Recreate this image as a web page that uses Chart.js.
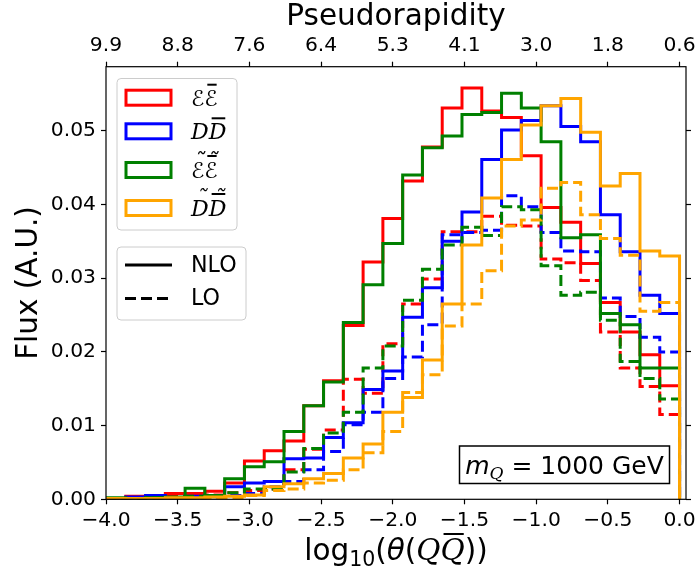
<!DOCTYPE html>
<html>
<head>
<meta charset="utf-8">
<script src="https://cdn.jsdelivr.net/npm/chart.js@4.4.1/dist/chart.umd.min.js"></script>
<style>
  html, body { margin: 0; padding: 0; background: #fff; }
</style>
</head>
<body>
<canvas id="graph" width="698" height="573"></canvas>
<script>
// histogram binning in log10(theta)
const binStart = -4.0;
const binEnd = 0.0;
const binCount = 29;

const xTicks = [-4.0, -3.5, -3.0, -2.5, -2.0, -1.5, -1.0, -0.5, 0.0];
const xTickLabels = ["\u22124.0", "\u22123.5", "\u22123.0", "\u22122.5", "\u22122.0", "\u22121.5", "\u22121.0", "\u22120.5", "0.0"];
const etaTickLabels = ["9.9", "8.8", "7.6", "6.4", "5.3", "4.1", "3.0", "1.8", "0.6"];
const yTicks = [0, 0.01, 0.02, 0.03, 0.04, 0.05];
const yTickLabels = ["0.00", "0.01", "0.02", "0.03", "0.04", "0.05"];

// NLO (solid)
const eeNLO = [0.0001, 0.0004, 0.0003, 0.0008, 0.0008, 0.0011, 0.0022, 0.0052, 0.0066, 0.0079,
  0.0127, 0.0161, 0.0236, 0.0322, 0.0381, 0.0432, 0.0478, 0.0531, 0.0558, 0.0527,
  0.0518, 0.0466, 0.0396, 0.0376, 0.0320, 0.0267, 0.0227, 0.0196, 0.0154];
const ddNLO = [0.0001, 0.0003, 0.0005, 0.0002, 0.0004, 0.0005, 0.0017, 0.0022, 0.0024, 0.0055,
  0.0056, 0.0084, 0.0104, 0.0149, 0.0174, 0.0247, 0.0287, 0.0350, 0.0390, 0.0461,
  0.0501, 0.0514, 0.0534, 0.0506, 0.0485, 0.0386, 0.0336, 0.0277, 0.0252];
const eetNLO = [0.0002, 0.0001, 0.0002, 0.0003, 0.0015, 0.0005, 0.0028, 0.0044, 0.0051, 0.0092,
  0.0127, 0.0159, 0.0240, 0.0291, 0.0347, 0.0440, 0.0477, 0.0493, 0.0522, 0.0525,
  0.0551, 0.0531, 0.0485, 0.0355, 0.0359, 0.0252, 0.0237, 0.0178, 0.0178];
const ddtNLO = [0.0001, 0.0001, 0.0001, 0.0002, 0.0002, 0.0003, 0.0004, 0.0006, 0.0017, 0.0021,
  0.0028, 0.0035, 0.0056, 0.0075, 0.0118, 0.0138, 0.0189, 0.0265, 0.0345, 0.0409,
  0.0461, 0.0508, 0.0534, 0.0544, 0.0498, 0.0425, 0.0442, 0.0337, 0.0330];

// LO (dashed)
const eeLO = [0.0001, 0.0002, 0.0002, 0.0004, 0.0004, 0.0006, 0.0009, 0.0012, 0.0014, 0.0040,
  0.0068, 0.0094, 0.0163, 0.0144, 0.0211, 0.0265, 0.0299, 0.0363, 0.0363, 0.0384,
  0.0372, 0.0371, 0.0326, 0.0321, 0.0297, 0.0227, 0.0178, 0.0153, 0.0115];
const ddLO = [0.0001, 0.0001, 0.0002, 0.0002, 0.0002, 0.0003, 0.0005, 0.0008, 0.0017, 0.0024,
  0.0040, 0.0065, 0.0101, 0.0118, 0.0164, 0.0193, 0.0237, 0.0359, 0.0362, 0.0365,
  0.0412, 0.0397, 0.0362, 0.0337, 0.0336, 0.0273, 0.0248, 0.0220, 0.0200];
const eetLO = [0.0001, 0.0001, 0.0002, 0.0002, 0.0004, 0.0005, 0.0009, 0.0014, 0.0014, 0.0037,
  0.0069, 0.0090, 0.0118, 0.0178, 0.0208, 0.0270, 0.0312, 0.0345, 0.0369, 0.0358,
  0.0397, 0.0393, 0.0317, 0.0277, 0.0281, 0.0243, 0.0187, 0.0164, 0.0136];
const ddtLO = [0.0001, 0.0001, 0.0001, 0.0001, 0.0001, 0.0002, 0.0002, 0.0005, 0.0012, 0.0014,
  0.0022, 0.0026, 0.0040, 0.0063, 0.0092, 0.0145, 0.0169, 0.0235, 0.0265, 0.0310,
  0.0371, 0.0379, 0.0422, 0.0430, 0.0386, 0.0354, 0.0331, 0.0255, 0.0267];

const RED = "#ff0000", BLUE = "#0000ff", GREEN = "#008000", ORANGE = "#ffa500";
const TICK_FONT = { family: "DejaVu Sans", size: 20.3 };
const LABEL_FONT = { family: "DejaVu Sans", size: 29.5 };

const edges = [];
for (let k = 0; k <= binCount; k++) edges.push(binStart + (binEnd - binStart) * k / binCount);

// outline of a step histogram
function stepPoints(vals) {
  const pts = [{ x: edges[0], y: 0 }];
  vals.forEach((v, i) => pts.push({ x: edges[i], y: v }));
  pts.push({ x: edges[vals.length], y: 0 });
  return pts;
}

function hist(vals, color, dashed) {
  return {
    data: stepPoints(vals),
    borderColor: color,
    borderWidth: 3,
    borderDash: dashed ? [11, 5] : [],
    stepped: true,
    pointRadius: 0,
    fill: false,
    borderJoinStyle: "miter",
  };
}

// dataset 0 is drawn on top
const datasets = [
  hist(ddtLO, ORANGE, true),
  hist(ddtNLO, ORANGE, false),
  hist(eetLO, GREEN, true),
  hist(eetNLO, GREEN, false),
  hist(ddLO, BLUE, true),
  hist(ddNLO, BLUE, false),
  hist(eeLO, RED, true),
  hist(eeNLO, RED, false),
];

// draws a run of text pieces (sub/superscripts, accents) centred on cx
function richText(ctx, parts, cx, baseline) {
  let w = 0;
  parts.forEach((p) => { ctx.font = p.font; p.w = ctx.measureText(p.t).width; w += p.w; });
  let x = cx - w / 2;
  ctx.textBaseline = "alphabetic";
  ctx.textAlign = "left";
  ctx.fillStyle = "#000";
  parts.forEach((p) => {
    ctx.font = p.font;
    ctx.fillText(p.t, x, baseline + (p.dy || 0));
    if (p.tilde) {
      ctx.save();
      ctx.textAlign = "center";
      ctx.fillText("\u02dc", x + p.w / 2 + 2, baseline - p.tilde);
      ctx.restore();
    }
    if (p.bar) {
      ctx.fillRect(x + 3, baseline - p.bar, p.w - 4, 2);
    }
    x += p.w;
  });
  return w;
}

function leftText(ctx, parts, x0, baseline) {
  let w = 0;
  parts.forEach((p) => { ctx.font = p.font; w += ctx.measureText(p.t).width; });
  richText(ctx, parts, x0 + w / 2, baseline);
}

const extras = {
  id: "extras",
  afterDraw(chart) {
    const ctx = chart.ctx;
    const a = chart.chartArea;
    ctx.save();
    // frame
    ctx.strokeStyle = "#000";
    ctx.lineWidth = 1.2;
    ctx.strokeRect(a.left, a.top, a.right - a.left, a.bottom - a.top);

    // x-axis label
    const R = "29.5px 'DejaVu Sans'";
    const S = "20.5px 'DejaVu Sans'";
    const I = "oblique 29.5px 'DejaVu Sans'";
    const C = "italic 29.5px 'DejaVu Serif'";
    richText(ctx, [
      { t: "log", font: R },
      { t: "10", font: S, dy: 6 },
      { t: "(", font: R },
      { t: "\u03b8", font: I },
      { t: "(", font: R },
      { t: "Q", font: C },
      { t: "Q", font: C, bar: 27 },
      { t: "))", font: R },
    ], (a.left + a.right) / 2, 560);

    // species legend
    function roundBox(x, y, w, h) {
      ctx.beginPath();
      ctx.roundRect(x, y, w, h, 4);
      ctx.fillStyle = "rgba(255,255,255,0.8)";
      ctx.fill();
      ctx.strokeStyle = "#cccccc";
      ctx.lineWidth = 1;
      ctx.stroke();
    }
    roundBox(117, 78.5, 120, 151.5);
    const E = "italic 22px 'DejaVu Sans'";
    const D = "italic 22px 'DejaVu Serif'";
    const rows = [
      { c: RED, y: 97.7, parts: [{ t: "\u2130", font: E }, { t: "\u2130", font: E, bar: 22 }] },
      { c: BLUE, y: 131.3, parts: [{ t: "D", font: D }, { t: "D", font: D, bar: 22 }] },
      { c: GREEN, y: 170, parts: [{ t: "\u2130", font: E, tilde: 10 }, { t: "\u2130", font: E, tilde: 10, bar: 23 }] },
      { c: ORANGE, y: 208, parts: [{ t: "D", font: D, tilde: 10 }, { t: "D", font: D, tilde: 10, bar: 23 }] },
    ];
    rows.forEach((r) => {
      ctx.strokeStyle = r.c;
      ctx.lineWidth = 3;
      ctx.strokeRect(126, r.y - 7.5, 45, 15);
      leftText(ctx, r.parts, 191, r.y + 8);
    });

    // line style legend
    roundBox(117, 247, 129, 73);
    ctx.strokeStyle = "#000";
    ctx.lineWidth = 3;
    ctx.beginPath(); ctx.moveTo(125, 265); ctx.lineTo(172, 265); ctx.stroke();
    ctx.setLineDash([11, 5]);
    ctx.beginPath(); ctx.moveTo(125, 298.5); ctx.lineTo(172, 298.5); ctx.stroke();
    ctx.setLineDash([]);
    ctx.font = "22.2px 'DejaVu Sans'";
    ctx.fillStyle = "#000";
    ctx.textBaseline = "middle";
    ctx.textAlign = "left";
    ctx.fillText("NLO", 191, 266);
    ctx.fillText("LO", 191, 299);

    // mass annotation
    ctx.fillStyle = "#fff";
    ctx.fillRect(459.5, 446, 210, 37.5);
    ctx.strokeStyle = "#000";
    ctx.lineWidth = 1.5;
    ctx.strokeRect(459.5, 446, 210, 37.5);
    richText(ctx, [
      { t: "m", font: "oblique 25px 'DejaVu Sans'" },
      { t: "Q", font: "italic 17px 'DejaVu Serif'", dy: 5 },
      { t: " = 1000 GeV", font: "25px 'DejaVu Sans'" },
    ], 564.5, 474);
    ctx.restore();
  },
};

const axisGrid = { drawOnChartArea: false, drawTicks: true, tickLength: 5, tickWidth: 1.2, color: "#000" };

const config = {
  type: "line",
  data: { datasets },
  options: {
    responsive: false,
    animation: false,
    devicePixelRatio: 1,
    layout: { padding: 0 },
    plugins: { legend: { display: false }, tooltip: { enabled: false } },
    scales: {
      x: {
        type: "linear",
        position: "bottom",
        min: -4.0,
        max: 0.045,
        afterBuildTicks: (s) => { s.ticks = xTicks.map((v) => ({ value: v })); },
        ticks: {
          callback: (v, i) => xTickLabels[i],
          font: TICK_FONT, color: "#000", padding: 4, maxRotation: 0, autoSkip: false,
        },
        grid: axisGrid,
        border: { display: false },
        afterFit: (s) => { s.height = 73.7; s.paddingLeft = 0; s.paddingRight = 0; },
      },
      x2: {
        type: "linear",
        position: "top",
        min: -4.0,
        max: 0.045,
        afterBuildTicks: (s) => { s.ticks = xTicks.map((v) => ({ value: v })); },
        ticks: {
          callback: (v, i) => etaTickLabels[i],
          font: TICK_FONT, color: "#000", padding: 4, maxRotation: 0, autoSkip: false,
        },
        title: { display: true, text: "Pseudorapidity", font: LABEL_FONT, color: "#000", padding: { top: 0, bottom: 0 } },
        grid: axisGrid,
        border: { display: false },
        afterFit: (s) => { s.height = 66.7; s.paddingLeft = 0; s.paddingRight = 0; },
      },
      y: {
        type: "linear",
        position: "left",
        min: 0,
        max: 0.0587,
        afterBuildTicks: (s) => { s.ticks = yTicks.map((v) => ({ value: v })); },
        ticks: { callback: (v, i) => yTickLabels[i], font: TICK_FONT, color: "#000", padding: 5 },
        title: { display: true, text: "Flux (A.U.)", font: LABEL_FONT, color: "#000", padding: { top: 12, bottom: 0 } },
        grid: axisGrid,
        border: { display: false },
        afterFit: (s) => { s.width = 106; },
      },
      y2: {
        type: "linear",
        position: "right",
        min: 0,
        max: 0.0587,
        afterBuildTicks: (s) => { s.ticks = yTicks.map((v) => ({ value: v })); },
        ticks: { display: false },
        grid: axisGrid,
        border: { display: false },
        afterFit: (s) => { s.width = 12; },
      },
    },
  },
  plugins: [extras],
};

const graphic = new Chart(document.getElementById("graph"), config);
</script>
</body>
</html>
